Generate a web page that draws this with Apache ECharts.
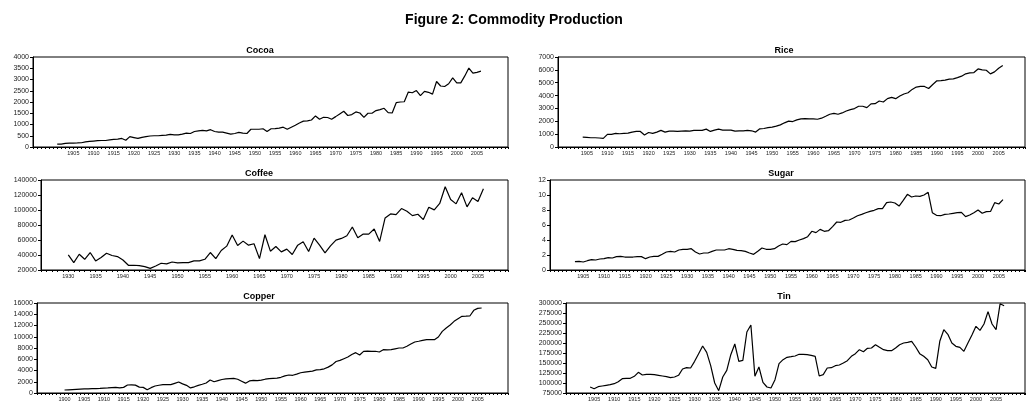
<!DOCTYPE html>
<html>
<head>
<meta charset="utf-8">
<script src="https://cdn.jsdelivr.net/npm/echarts@6/dist/echarts.min.js"></script>
<style>
  html, body { margin: 0; padding: 0; background: #fff; }
  #chart { width: 1028px; height: 407px; }
</style>
</head>
<body>
<div id="chart"></div>
<script>
// yearly production, each series starts at its own first year
const cocoaStart = 1901;
const cocoa = [130,130,160,175,175,180,190,230,250,265,280,290,290,320,340,350,380,300,460,420,
  380,430,460,490,500,500,520,530,560,540,540,570,620,600,690,720,740,720,770,690,
  660,660,620,570,600,650,620,600,790,790,790,810,690,810,820,840,880,790,880,970,
  1070,1150,1160,1200,1380,1235,1320,1310,1235,1350,1470,1590,1400,1440,1560,1510,1320,1500,1500,1620,
  1660,1720,1530,1510,1970,2000,2010,2440,2410,2510,2280,2470,2430,2350,2910,2710,2690,2810,3070,2850,
  2850,3160,3510,3280,3320,3370];

const riceStart = 1904;
const rice = [770,750,720,720,700,670,980,980,1055,1030,1055,1080,1160,1210,1210,930,1130,1055,1160,1290,
  1160,1235,1235,1210,1235,1260,1235,1290,1290,1290,1390,1210,1310,1390,1310,1310,1310,1235,1260,1260,
  1290,1260,1160,1415,1440,1500,1545,1620,1720,1880,2010,1980,2110,2190,2210,2190,2190,2160,2240,2390,
  2550,2620,2550,2650,2800,2910,2990,3170,3170,3060,3350,3370,3580,3500,3760,3860,3760,3960,4120,4220,
  4480,4660,4710,4710,4550,4860,5150,5170,5200,5280,5300,5400,5510,5690,5760,5790,6070,6000,5970,5690,
  5840,6120,6330];

const coffeeStart = 1930;
const coffee = [40150,29850,41000,34300,43300,32100,36600,42400,39300,37900,33400,26300,26300,25800,24500,22200,25400,29000,28100,30700,
  29400,29900,29900,32100,32100,34300,43300,35200,46000,51800,66600,52700,58500,53100,55000,35200,67000,45100,51300,44200,
  47800,40600,53100,57600,44600,62500,53100,42800,52200,59900,62100,65700,77300,63000,67900,67900,74600,58100,89400,94800,
  93900,101900,98400,92500,94300,87200,103700,100200,108700,131000,114000,108200,123000,104200,116300,111400,128400];

const sugarStart = 1903;
const sugar = [1.11,1.16,1.07,1.24,1.38,1.33,1.47,1.51,1.64,1.6,1.78,1.82,1.73,1.73,1.73,1.78,1.78,1.51,1.73,1.82,
  1.82,2.09,2.4,2.49,2.4,2.67,2.76,2.76,2.84,2.4,2.13,2.27,2.27,2.49,2.67,2.67,2.67,2.84,2.76,2.62,
  2.58,2.49,2.27,2.09,2.49,2.93,2.76,2.76,2.84,3.2,3.47,3.38,3.82,3.78,4.0,4.18,4.44,5.16,4.98,5.42,
  5.16,5.24,5.78,6.4,6.36,6.62,6.67,6.93,7.24,7.42,7.64,7.82,7.96,8.18,8.18,8.98,9.07,8.93,8.53,9.29,
  10.09,9.73,9.87,9.82,10.0,10.36,7.64,7.29,7.24,7.42,7.47,7.56,7.64,7.69,7.11,7.33,7.64,8.0,7.56,7.78,
  7.8,8.98,8.8,9.38];

const copperStart = 1900;
const copper = [530,570,610,650,690,720,750,770,790,820,860,900,960,1000,900,1000,1420,1440,1400,1050,
  1000,560,950,1250,1380,1480,1500,1480,1720,1960,1620,1360,900,1100,1360,1550,1780,2300,2000,2200,
  2400,2500,2550,2600,2450,2100,1750,2150,2250,2200,2300,2450,2550,2600,2650,2790,3050,3200,3150,3350,
  3600,3700,3800,3900,4100,4150,4300,4600,5000,5600,5800,6100,6400,6850,7170,6760,7410,7450,7400,7420,
  7290,7700,7650,7700,7850,8000,8000,8300,8700,9070,9200,9350,9500,9500,9480,9960,10960,11560,12100,12740,
  13200,13630,13650,13690,14700,15050,15110];

const tinStart = 1904;
const tin = [90000,85800,90800,92500,94200,95800,98300,103300,110800,111700,111700,116700,126700,120000,121700,121700,120800,119200,117500,115800,
  113300,115000,119200,135000,138300,137500,154200,173300,192500,176700,143300,100000,80800,115000,131700,170800,197500,154200,156700,227500,
  245000,116700,140000,101700,90000,87500,108300,148300,158300,164200,165800,167500,171700,171700,170800,169200,166700,117500,120800,137500,
  138300,143300,145000,150000,155800,166700,173300,183300,178300,186700,187500,195800,189200,183300,180800,180800,187500,195800,200000,201700,
  204200,190000,173300,166700,158300,140000,136700,204200,233300,221700,200000,191700,189200,179200,200000,220000,241700,231700,247500,278300,
  247500,233300,298000,293000];

const panels = [
  { name: 'Cocoa',  start: cocoaStart,  values: cocoa,  ymin: 0,     ymax: 4000,   yint: 500,
    xmin: 1895, xmax: 2012.7, labFrom: 1905, grid: { left: 33,  top: 57,  width: 475, height: 90 }, tx: 260, ty: 46 },
  { name: 'Rice',   start: riceStart,   values: rice,   ymin: 0,     ymax: 7000,   yint: 1000,
    xmin: 1898, xmax: 2011.4, labFrom: 1905, grid: { left: 558, top: 57,  width: 469, height: 90 }, tx: 784, ty: 46 },
  { name: 'Coffee', start: coffeeStart, values: coffee, ymin: 20000, ymax: 140000, yint: 20000,
    xmin: 1925, xmax: 2010.5, labFrom: 1930, grid: { left: 41,  top: 180, width: 467, height: 90 }, tx: 259, ty: 169 },
  { name: 'Sugar',  start: sugarStart,  values: sugar,  ymin: 0,     ymax: 12,     yint: 2,
    xmin: 1897, xmax: 2011.3, labFrom: 1905, grid: { left: 550, top: 180, width: 477, height: 90 }, tx: 781, ty: 169 },
  { name: 'Copper', start: copperStart, values: copper, ymin: 0,     ymax: 16000,  yint: 2000,
    xmin: 1893, xmax: 2012.7, labFrom: 1900, grid: { left: 37,  top: 303, width: 471, height: 90 }, tx: 259, ty: 292 },
  { name: 'Tin',    start: tinStart,    values: tin,    ymin: 75000, ymax: 300000, yint: 25000,
    xmin: 1898, xmax: 2012.2, labFrom: 1905, grid: { left: 566, top: 303, width: 461, height: 90 }, tx: 784, ty: 292 }
];

const font = 'Liberation Sans, Arial, sans-serif';
const chart = echarts.init(document.getElementById('chart'));

let option = {
  animation: false,
  backgroundColor: '#fff',
  title: [{
    text: 'Figure 2: Commodity Production',
    left: 'center', top: 13, padding: 0,
    textStyle: { fontFamily: font, fontSize: 14, fontWeight: 'bold', color: '#000' }
  }],
  grid: [], xAxis: [], yAxis: [], series: []
};

panels.forEach((p, i) => {
  option.title.push({
    text: p.name, left: p.tx, top: p.ty, textAlign: 'center', padding: 0,
    textStyle: { fontFamily: font, fontSize: 9, fontWeight: 'bold', color: '#000' }
  });
  option.grid.push(Object.assign({ show: true, borderColor: '#000', borderWidth: 1 }, p.grid));
  option.xAxis.push({
    type: 'value', gridIndex: i, min: p.xmin, max: p.xmax, interval: 1,
    axisLine: { lineStyle: { color: '#000', width: 1 } },
    axisTick: { length: 2, lineStyle: { color: '#000' } },
    splitLine: { show: false },
    axisLabel: {
      fontFamily: font, fontSize: 5.5, color: '#222', margin: 3,
      formatter: v => (v % 5 === 0 && v >= p.labFrom && v <= 2005) ? String(v) : ''
    }
  });
  option.yAxis.push({
    type: 'value', gridIndex: i, min: p.ymin, max: p.ymax, interval: p.yint,
    axisLine: { show: true, lineStyle: { color: '#000', width: 1 } },
    axisTick: { show: true, length: 3, lineStyle: { color: '#000' } },
    splitLine: { show: false },
    axisLabel: { fontFamily: font, fontSize: 7, color: '#222', margin: 4, formatter: v => String(v) }
  });
  option.series.push({
    type: 'line', xAxisIndex: i, yAxisIndex: i,
    showSymbol: false, symbol: 'none',
    lineStyle: { color: '#000', width: 1.2 },
    data: p.values.map((v, k) => [p.start + k, v])
  });
});

chart.setOption(option);
</script>
</body>
</html>
